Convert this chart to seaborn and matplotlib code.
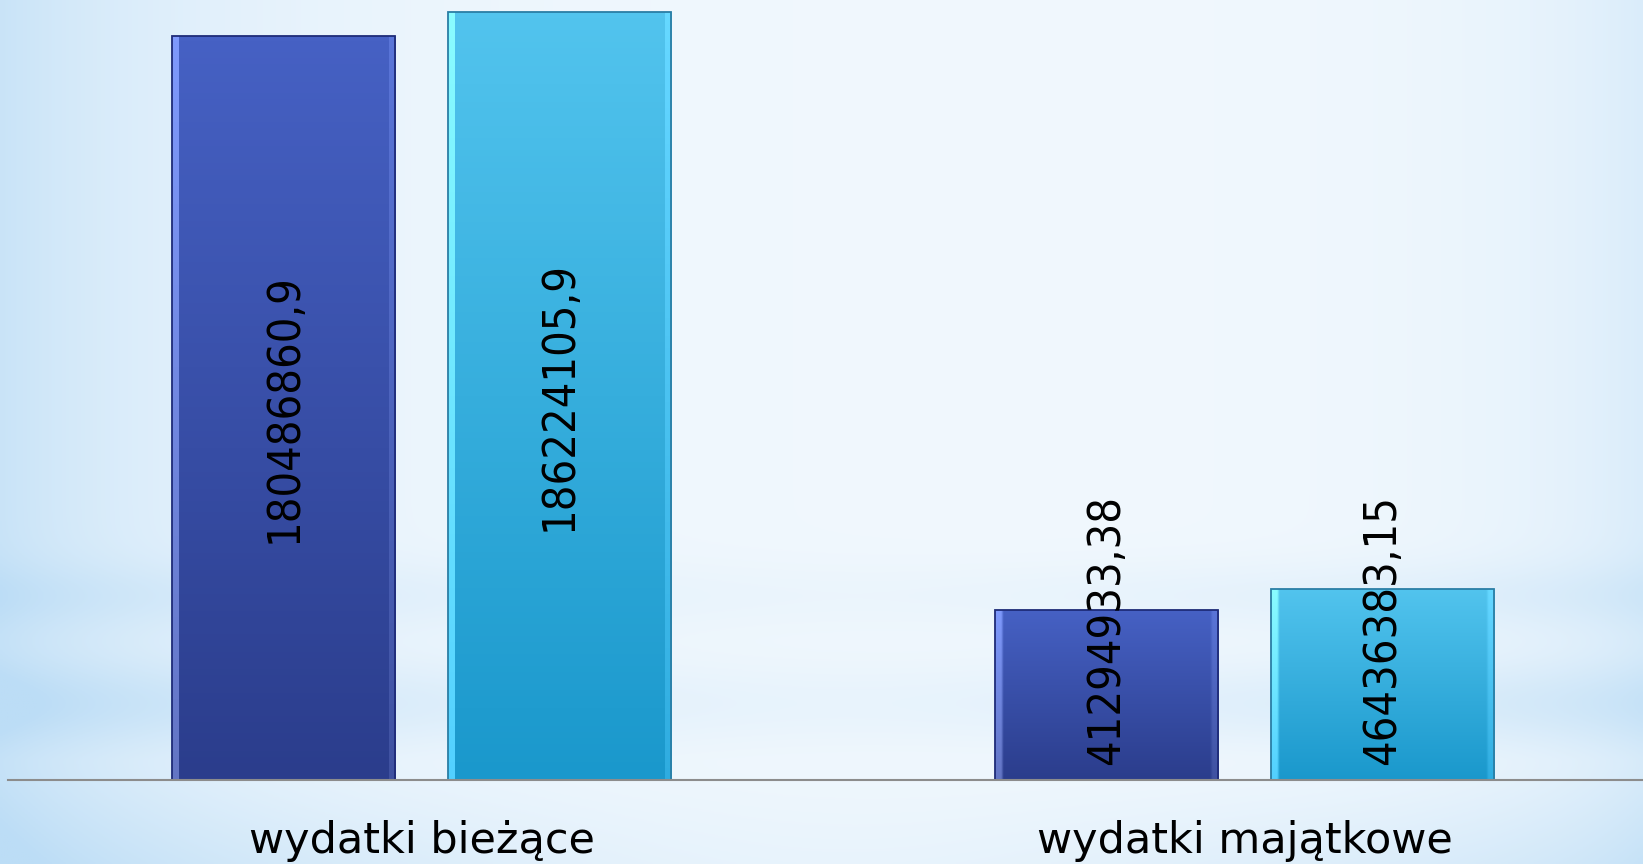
import matplotlib.pyplot as plt
import numpy as np
import pandas as pd
import seaborn as sns
from matplotlib.colors import to_rgb

categories = ["wydatki bieżące", "wydatki majątkowe"]
series = ["seria 1", "seria 2"]  # legend is not shown in the original
values_s1 = [180486860.9, 41294933.38]
values_s2 = [186224105.9, 46436383.15]

df = pd.DataFrame({
    "kategoria": categories * 2,
    "seria": [series[0]] * 2 + [series[1]] * 2,
    "wartosc": values_s1 + values_s2,
})

# colours: (top, bottom, edge)
styles = [("#4661C4", "#2B3D8C", "#1E2B78"),
          ("#52C4EE", "#1A98CC", "#2A7EA5")]

sns.set_style("white")
plt.rcParams['font.family'] = ['DejaVu Sans']

fig = plt.figure(figsize=(16.43, 8.64), dpi=100)

# soft blue background
bg = fig.add_axes([0, 0, 1, 1], zorder=-5)
yy, xx = np.mgrid[0:1:400j, 0:1:600j]
centre = 1 - 0.6 * np.exp(-((xx - 0.5) / 0.25) ** 2)
d = (0.7 * np.exp(-xx / 0.13) + 0.4 * np.exp(-(1 - xx) / 0.08)
     + 0.22 * np.exp(-((yy - 0.69) / 0.04) ** 2) * centre
     + 0.35 * np.exp(-((yy - 0.815) / 0.05) ** 2) * centre
     + 0.35 * np.clip((yy - 0.88) / 0.12, 0, 1) * centre + 0.07)
d = np.clip(d, 0, 1)[..., None]
white = np.array(to_rgb("#F5FAFE"))
blue = np.array(to_rgb("#BCDDF6"))
bg.imshow(white * (1 - d) + blue * d, aspect="auto", extent=[0, 1, 0, 1])
bg.axis("off")

ax = fig.add_axes([8 / 1643, 84 / 864, 1 - 8 / 1643, 780 / 864])
ax.set_facecolor("none")
sns.barplot(data=df, x="kategoria", y="wartosc", hue="seria",
            palette=[s[0] for s in styles], width=0.67, gap=0.19,
            legend=False, ax=ax)

# gradient fill + bevel highlight inside each bar
for cont, (top, bot, edge) in zip(ax.containers, styles):
    t, b = np.array(to_rgb(top)), np.array(to_rgb(bot))
    for bar in cont:
        x, w, h = bar.get_x(), bar.get_width(), bar.get_height()
        v = np.linspace(0, 1, 128)[:, None, None]
        grad = np.repeat(t * (1 - v) + b * v, 60, axis=1)
        grad[:, :2] = np.clip(grad[:, :2] + 0.22, 0, 1)
        grad[:, -2:] = np.clip(grad[:, -2:] + 0.08, 0, 1)
        im = ax.imshow(grad, extent=[x, x + w, 0, h], aspect="auto", zorder=2)
        im.set_clip_path(bar)
        bar.set_facecolor("none")
        bar.set_edgecolor(edge)
        bar.set_linewidth(1.3)
        bar.set_zorder(3)

ax.set_xlim(-0.5024, 1.484)
ax.set_ylim(0, 189.2e6)

# value labels, rotated, centred in the bar (or sitting on the base if too long)
texts = []
for cont in ax.containers:
    for bar in cont:
        val = bar.get_height()
        lab = f"{val:.2f}".rstrip("0").rstrip(".").replace(".", ",")
        tx = ax.text(bar.get_x() + bar.get_width() / 2, val / 2, lab,
                     rotation=90, ha="center", va="center", fontsize=32.3,
                     fontstretch="condensed", color="black", zorder=5)
        texts.append((tx, bar))

fig.canvas.draw()
r = fig.canvas.get_renderer()
px_per_unit = ax.transData.transform((0, 1e6))[1] - ax.transData.transform((0, 0))[1]
for tx, bar in texts:
    th = tx.get_window_extent(r).height
    bh = bar.get_height() / 1e6 * px_per_unit
    if th > bh:
        tx.set_va("bottom")
        tx.set_y(15 / px_per_unit * 1e6)

ax.set_xlabel("")
ax.set_ylabel("")
ax.set_yticks([])
ax.tick_params(axis="x", length=0, pad=29, labelsize=31, labelcolor="black")
for s in ["top", "left", "right"]:
    ax.spines[s].set_visible(False)
ax.spines["bottom"].set_color("#8C8C8C")
ax.spines["bottom"].set_linewidth(1.5)
ax.spines["bottom"].set_zorder(4)

fig.savefig("out.png", dpi=100)
